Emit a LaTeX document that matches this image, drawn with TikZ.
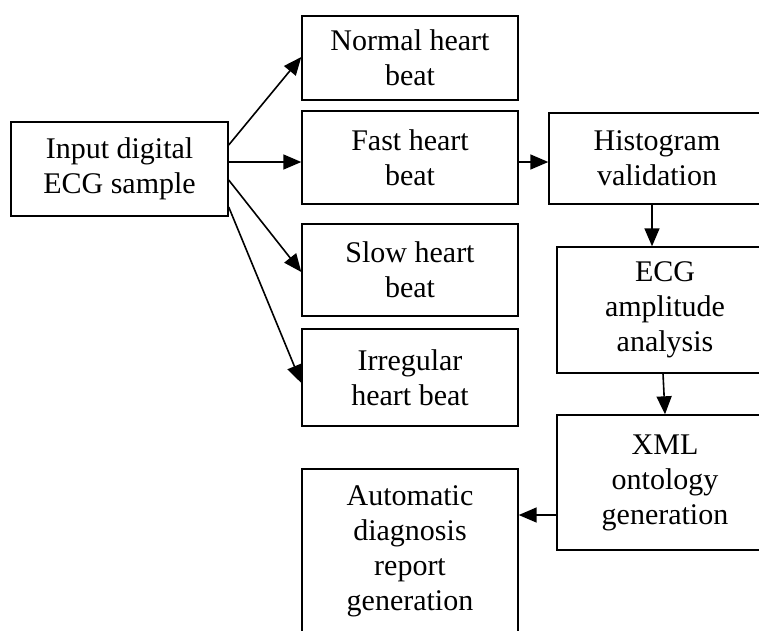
\documentclass[tikz,border=0pt]{standalone}
\usepackage{fontspec}
\setmainfont{Liberation Serif}
\usetikzlibrary{positioning, arrows.meta, calc}

\begin{document}
\begin{tikzpicture}[
  x=1pt, y=-1pt,
  every node/.style={draw, line width=1.4pt, align=center, inner sep=0pt,
    font=\fontsize{30}{35}\selectfont},
  arr/.style={line width=1.6pt, -{Triangle[length=18pt,width=15pt]}}
]
\useasboundingbox (0,0) rectangle (759,630);
\clip (0,0) rectangle (759,630);

% Input and the four beat classes
\node[minimum width=217pt, minimum height=94pt] (n0) at (119.5,169) {Input digital\\ECG sample};
\node[minimum width=216pt, minimum height=84pt] (n1) at (410,58) {Normal heart\\beat};
\node[minimum width=216pt, minimum height=93pt] (n2) at (410,157.5) {Fast heart\\beat};
\node[minimum width=216pt, minimum height=92pt] (n3) at (410,270) {Slow heart\\beat};
\node[minimum width=216pt, minimum height=97pt] (n4) at (410,377.5) {Irregular\\heart beat};

% Processing chain (runs past the right and bottom edges)
\node[minimum width=216pt, minimum height=91pt] (m1) at (657,158.5) {Histogram\\validation};
\node[minimum width=216pt, minimum height=126pt] (m2) at (665,310) {ECG\\amplitude\\analysis};
\node[minimum width=216pt, minimum height=135pt] (m3) at (665,482.5) {XML\\ontology\\generation};
\node[minimum width=216pt, minimum height=164pt] (m4) at (410,551) {Automatic\\diagnosis\\report\\generation};

% Arrows
\draw[arr] ([yshift=24pt]n0.east) -- ([yshift=1pt]n1.west);
\draw[arr] ([yshift=7pt]n0.east) -- ([yshift=-4.5pt]n2.west);
\draw[arr] ([yshift=-11pt]n0.east) -- ([yshift=-2pt]n3.west);
\draw[arr] ([yshift=-38pt]n0.east) -- ([yshift=-5.5pt]n4.west);
\draw[arr] ([yshift=-4.5pt]n2.east) -- ([yshift=-3.5pt]m1.west);
\draw[arr] ([xshift=-5pt]m1.south) -- ([xshift=-13pt]m2.north);
\draw[arr] ([xshift=-2pt]m2.south) -- (m3.north);
\draw[arr] ([yshift=-32.5pt]m3.west) -- ([yshift=36pt]m4.east);

\end{tikzpicture}
\end{document}
